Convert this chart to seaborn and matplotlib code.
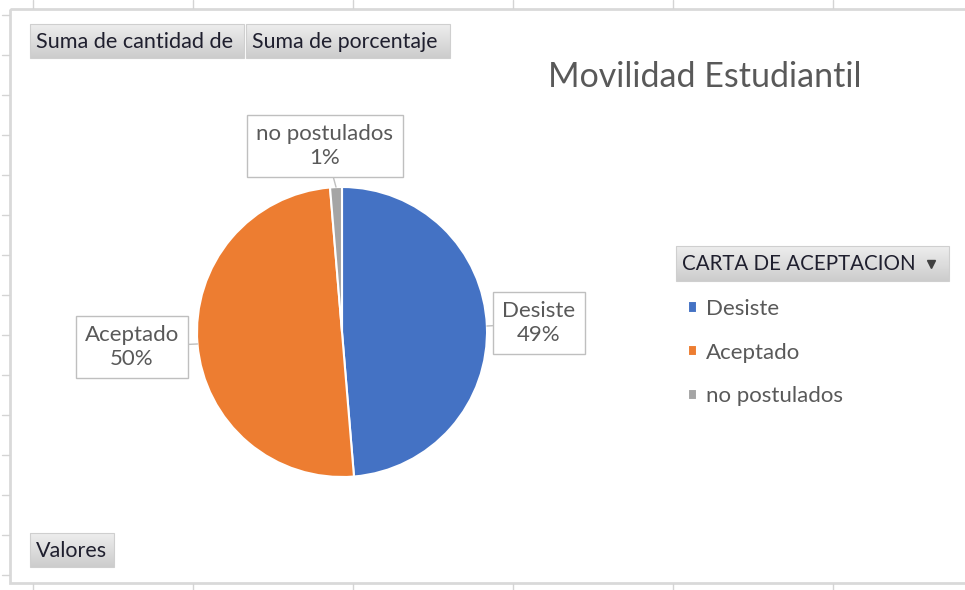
import numpy as np
import matplotlib
matplotlib.use("Agg")
import matplotlib.pyplot as plt
import seaborn as sns
from matplotlib.patches import Rectangle

# data
categories = ["Desiste", "Aceptado", "no postulados"]
cantidades = [37, 38, 1]
colores = ["#4472C4", "#ED7D31", "#A5A5A5"]
titulo = "Movilidad Estudiantil"
campo_leyenda = "CARTA DE ACEPTACION"
botones_valores = ["Suma de cantidad de", "Suma de porcentaje"]
boton_eje = "Valores"

sns.set_theme(style="white")
plt.rcParams["font.family"] = ["Lato", "DejaVu Sans"]

W, H = 965, 590
fig = plt.figure(figsize=(W / 100, H / 100), dpi=100)
fig.patch.set_facecolor("white")

# background layer in pixel coordinates (sheet grid, frame, pivot buttons)
bg = fig.add_axes([0, 0, 1, 1])
bg.set_xlim(0, W)
bg.set_ylim(H, 0)
bg.axis("off")

for x in [33, 193, 353, 513, 673, 833]:
    bg.plot([x, x], [0, 8], color="#d4d4d4", lw=1)
    bg.plot([x, x], [584, 590], color="#d4d4d4", lw=1)
for y in np.arange(15, 580, 40):
    bg.plot([2, 9], [y, y], color="#d4d4d4", lw=1)
bg.add_patch(Rectangle((10, 9), 970, 574, fill=False, edgecolor="#d9d9d9", lw=2))

grad = np.linspace(0.93, 0.80, 50).reshape(-1, 1)


def boton(x0, x1, y0, y1, texto, size=15.5):
    bg.imshow(grad, cmap="gray", vmin=0, vmax=1, extent=(x0, x1, y1, y0),
              aspect="auto", zorder=2)
    bg.add_patch(Rectangle((x0, y0), x1 - x0, y1 - y0, fill=False,
                           edgecolor="#cfcfcf", lw=0.8, zorder=3))
    bg.text(x0 + 6, (y0 + y1) / 2 + 1, texto, fontsize=size, color="#1f1f2e",
            va="center", ha="left", zorder=4)


boton(30, 244, 24, 58, botones_valores[0], 15.6)
boton(246, 450, 24, 58, botones_valores[1], 15.3)
boton(30, 114, 533, 567, boton_eje, 15.5)
boton(676, 949, 246, 281, campo_leyenda, 14.8)
bg.plot([931], [264], marker="v", color="#404040", markersize=5.5, zorder=5)
bg.set_xlim(0, W)
bg.set_ylim(H, 0)

bg.text(705, 77, titulo, fontsize=24.5, color="#595959", ha="center", va="center")

# pie
cx, cy, r = 342, 332, 145
pie_ax = fig.add_axes([(cx - r) / W, (H - cy - r) / H, 2 * r / W, 2 * r / H])
wedges, _ = pie_ax.pie(cantidades, colors=colores, startangle=90, counterclock=False,
                       wedgeprops=dict(edgecolor="white", linewidth=1.5))
pie_ax.set_xlim(-1, 1)
pie_ax.set_ylim(-1, 1)
pie_ax.set_aspect("equal")
pie_ax.axis("off")

total = sum(cantidades)
pos_etiquetas = [(539, 323), (132, 347), (325, 146)]
for w, cat, v, (tx, ty) in zip(wedges, categories, cantidades, pos_etiquetas):
    ang = np.deg2rad((w.theta1 + w.theta2) / 2)
    pie_ax.annotate(f"{cat}\n{round(v / total * 100)}%",
                    xy=(np.cos(ang), np.sin(ang)), xytext=(tx, ty),
                    textcoords=bg.transData, ha="center", va="center",
                    fontsize=16, color="#595959", linespacing=1.25,
                    bbox=dict(boxstyle="square,pad=0.42", fc="white", ec="#bfbfbf", lw=1),
                    arrowprops=dict(arrowstyle="-", color="#bfbfbf", lw=1,
                                    shrinkA=0, shrinkB=0))

# legend entries
leg = fig.legend(wedges, categories, loc="upper left",
                 bbox_to_anchor=(668 / W, 1 - 279 / H), frameon=False,
                 handlelength=0.4, handleheight=0.4, handletextpad=0.4,
                 labelspacing=1.06, fontsize=16)
for t in leg.get_texts():
    t.set_color("#595959")

fig.savefig("out.png", dpi=100)
